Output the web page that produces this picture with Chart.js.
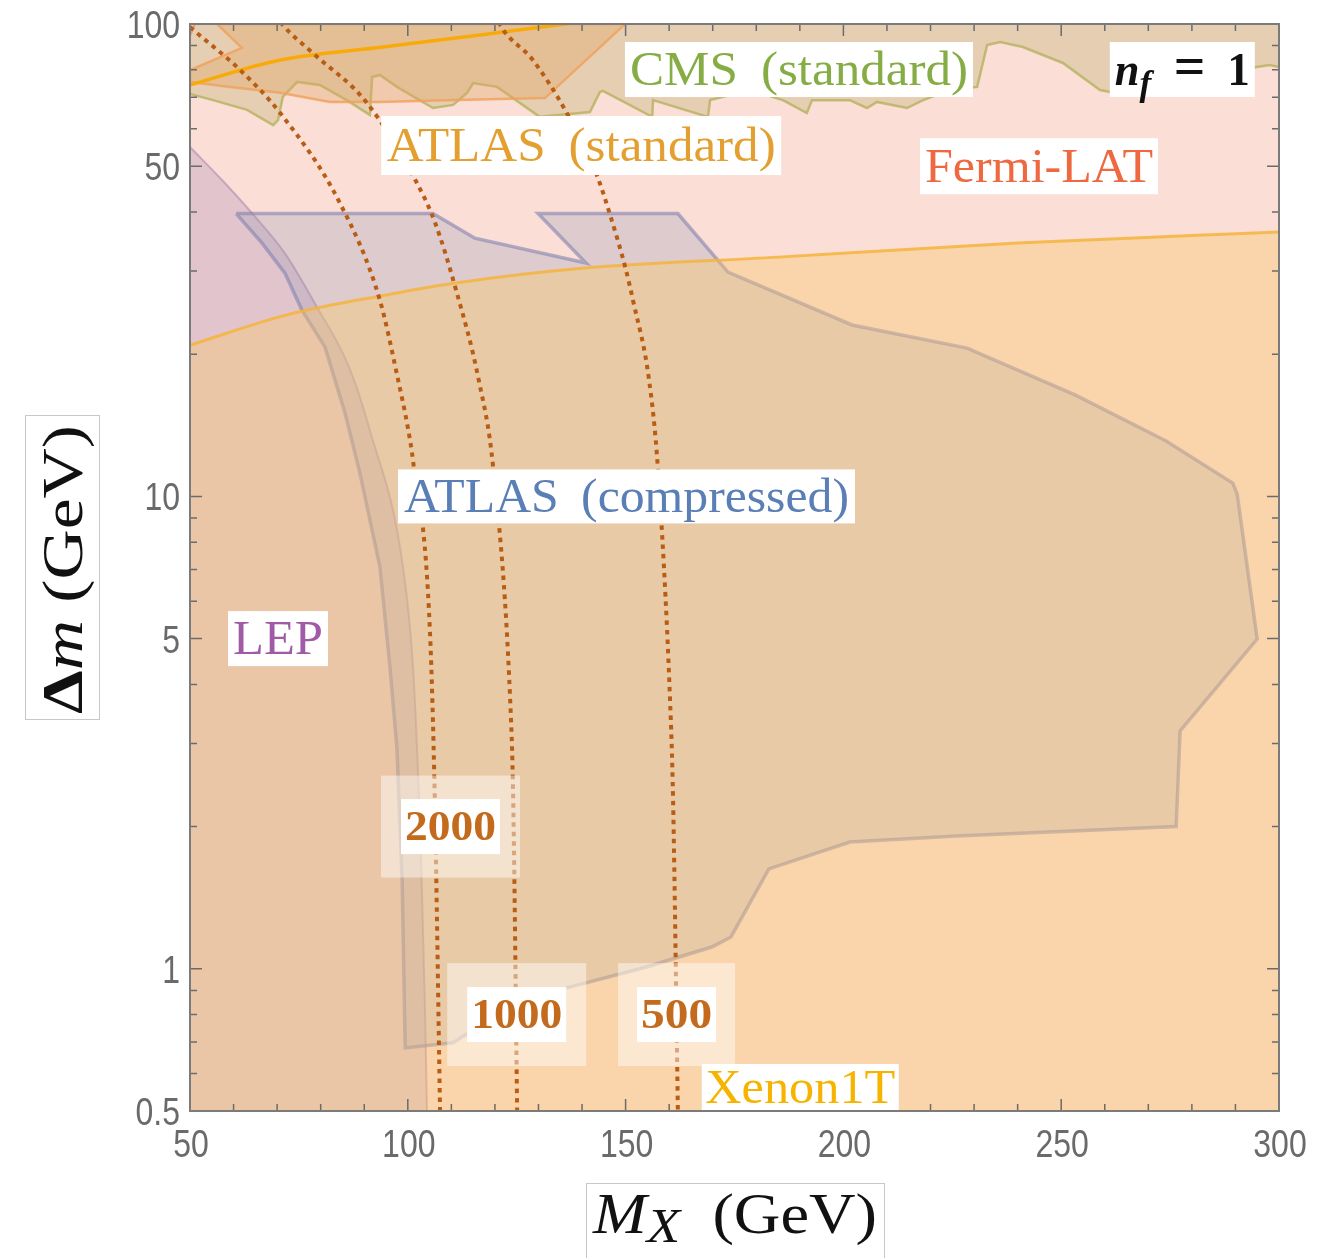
<!DOCTYPE html>
<html><head><meta charset="utf-8">
<script src="https://cdn.jsdelivr.net/npm/chart.js@4.4.1/dist/chart.umd.min.js"></script>
<style>html,body{margin:0;padding:0;background:#fff;}canvas{display:block;}</style>
</head><body>
<canvas id="c" width="1328" height="1258"></canvas>
<script>
// ---------------- data (M_X in GeV, Delta m in GeV) ----------------
const xMajorTicks = [50, 100, 150, 200, 250, 300];
const xTickText   = ['50', '100', '150', '200', '250', '300'];
const xMinorTicks = [60,70,80,90,110,120,130,140,160,170,180,190,210,220,230,240,260,270,280,290];
const yMajorTicks = [0.5, 1, 5, 10, 50, 100];
const yTickText   = ['0.5', '1', '5', '10', '50', '100'];
const yMinorTicks = [0.6,0.7,0.8,0.9,2,3,4,6,7,8,9,20,30,40,60,70,80,90];

// Fermi-LAT excluded region (whole plane except a tiny top-left corner)
const fermiM = [50, 51.1, 300, 300, 50];
const fermiD = [94.8, 100, 100, 0.5, 0.5];
const fermiEdgeM = [50, 51.1];
const fermiEdgeD = [94.8, 100];

// Xenon1T boundary (excluded below)
const xenonM = [50, 72, 95, 111, 140, 185, 240, 300];
const xenonD = [20.9, 24.2, 26.7, 28.3, 30.4, 32.1, 34.4, 36.3];

// second Xenon-coloured curve near the top
const topLineM = [50, 70.7, 94.3, 116.6, 134.3, 141];
const topLineD = [74.3, 83.9, 89.4, 94.8, 99.5, 101.5];

// LEP boundary (excluded to the left / below)
const lepM = [50, 57.3, 64.2, 71.8, 78.9, 86.5, 91.3, 98.9, 101.2, 102.3, 103.0, 103.9, 104.4];
const lepD = [54.9, 46.8, 39.8, 32.7, 25.4, 18.8, 13.8, 7.09, 4.35, 2.675, 1.78, 0.862, 0.5];

// ATLAS (compressed) contour
const cmpM = [60.6, 105.8, 115.4, 140.9, 129.9, 162.0, 173.5, 202.0, 228.4, 253.2, 274.1, 289.4, 290.4, 295.0, 277.3, 276.4, 226.1, 201.5, 182.9, 174.2, 169.8, 154.0, 136.3, 113.1, 110.4, 99.4, 98.7, 97.5, 95.9, 93.6, 89.0, 85.6, 81.0, 75.7, 71.8, 66.5, 60.6];
const cmpD = [39.7, 39.7, 35.2, 31.2, 39.7, 39.7, 29.85, 23.06, 20.6, 16.4, 13.1, 10.67, 10.12, 4.99, 3.19, 2.0, 1.91, 1.855, 1.627, 1.168, 1.112, 1.004, 0.91, 0.724, 0.697, 0.68, 1.54, 2.93, 4.35, 7.09, 11.2, 15.0, 20.7, 24.8, 29.7, 34.4, 39.7];

// CMS (standard) boundary (excluded above)
const cmsM = [50, 55.3, 63.1, 69.1, 70.2, 71.3, 74.6, 79.8, 86.0, 91.3, 91.8, 93.6, 97.5, 105.8, 110.4, 113.6, 115.0, 120.5, 130.3, 141.8, 144.1, 144.8, 156.1, 156.3, 168.9, 169.4, 178.6, 186.1, 191.6, 192.8, 201.5, 205.4, 207.7, 214.6, 218.3, 224.5, 230.7, 233.0, 236.0, 241.2, 250.4, 258.9, 261.2, 294.9, 297.9, 300];
const cmsD = [71.1, 69.0, 65.8, 61.1, 62.6, 70.1, 75.4, 74.3, 69.0, 64.2, 77.2, 78.0, 73.6, 66.4, 67.4, 71.5, 75.0, 73.6, 63.6, 65.1, 71.8, 72.2, 63.6, 69.0, 63.6, 69.0, 72.5, 69.0, 64.8, 69.0, 69.0, 66.4, 68.4, 66.4, 69.0, 72.5, 73.6, 90.3, 91.6, 89.4, 82.7, 72.5, 71.8, 81.1, 81.9, 81.1];

// ATLAS (standard) contour
const atlM = [50, 61.9, 56.2, 149.9, 131.5, 109.0, 93.6, 82.1, 70.7, 59.2, 50, 50];
const atlD = [79.9, 89.0, 100, 100, 69.7, 69.0, 68.4, 68.4, 71.5, 73.6, 75.4, 79.9];

// dotted contours 2000 / 1000 / 500
const c2000M = [50, 51.6, 61.5, 70.7, 84.4, 93.6, 97.8, 100.0, 101.2, 105.1, 106.2, 107.4];
const c2000D = [98.5, 95.7, 79.9, 64.8, 41.8, 26.0, 17.6, 14.0, 11.9, 5.14, 2.28, 0.5];
const c1000M = [70.8, 71.3, 78.2, 90.6, 101.7, 106.2, 111.1, 116.3, 119.6, 123.5, 124.2, 125.1];
const c1000D = [101, 99.5, 86.8, 68.1, 46.8, 38.1, 27.3, 17.6, 11.5, 3.71, 2.28, 0.5];
const c500M  = [120.9, 121.2, 128.7, 136.5, 143.2, 146.6, 150.1, 151.7, 155.4, 157.4, 160.2, 160.9, 162.0];
const c500D  = [101, 99.5, 83.9, 64.8, 48.4, 39.0, 30.1, 26.0, 17.6, 11.5, 3.71, 2.28, 0.5];

const pts = (xs, ys) => xs.map((v, i) => ({x: v, y: ys[i]}));

const SERIF = '"Liberation Serif", "DejaVu Serif", serif';
const SANS = '"Liberation Sans", Arial, sans-serif';

function fontOf(p, size) {
  return (p.italic ? 'italic ' : '') + (p.bold ? 'bold ' : '') + (size * (p.scale || 1)) + 'px ' + SERIF;
}
function drawPieces(ctx, pieces, cx, baseline, targetW, size) {
  const ws = [];
  let total = 0;
  for (const p of pieces) { ctx.font = fontOf(p, size); const w = ctx.measureText(p.t).width; ws.push(w); total += w; }
  const sx = targetW / total;
  ctx.save();
  ctx.translate(cx - targetW / 2, baseline);
  ctx.scale(sx, 1);
  ctx.textBaseline = 'alphabetic'; ctx.textAlign = 'left';
  let xx = 0;
  pieces.forEach((p, i) => { ctx.font = fontOf(p, size); ctx.fillText(p.t, xx, (p.dy || 0) * size); xx += ws[i]; });
  ctx.restore();
}
function drawTickText(ctx, s, x, baseline, align) {
  ctx.save();
  ctx.font = '39px ' + SANS;
  ctx.textBaseline = 'alphabetic';
  const w = ctx.measureText(s).width * 0.82;
  const left = align === 'right' ? x - w : x - w / 2;
  ctx.translate(left, baseline); ctx.scale(0.82, 1);
  ctx.textAlign = 'left';
  ctx.fillText(s, 0, 0);
  ctx.restore();
}

// label annotations (anchored in data coordinates)
const labels = [
  {pieces: [{t: 'CMS \u2009(standard)'}], color: '#86ad45', M: 189.8, D: 80.1, bw: 348, bh: 55, tw: 338, size: 48},
  {pieces: [{t: 'n', italic: true, bold: true}, {t: 'f', italic: true, bold: true, scale: 0.8, dy: 0.22}, {t: '\u2002', bold: true}, {t: '=', bold: true, scale: 1.25}, {t: '\u2002', bold: true}, {t: '1', bold: true}], color: '#111', M: 277.8, D: 80.1, bw: 145, bh: 55, tw: 135, size: 46},
  {pieces: [{t: 'ATLAS \u2009(standard)'}], color: '#e3a031', M: 139.8, D: 55.3, bw: 400, bh: 59, tw: 389, size: 48},
  {pieces: [{t: 'Fermi-LAT'}], color: '#ee6840', M: 244.9, D: 50.0, bw: 238, bh: 56, tw: 228, size: 48},
  {pieces: [{t: 'ATLAS \u2009(compressed)'}], color: '#5a7fb6', M: 150.2, D: 10.0, bw: 457, bh: 54, tw: 445, size: 48},
  {pieces: [{t: 'LEP'}], color: '#a05aa6', M: 70.2, D: 5.0, bw: 100, bh: 55, tw: 90, size: 48},
  {pieces: [{t: '2000', bold: true}], color: '#c46a1c', M: 109.8, D: 2.0, bw: 99, bh: 55, ow: 139, oh: 102, tw: 91, size: 42},
  {pieces: [{t: '1000', bold: true}], color: '#c46a1c', M: 125.0, D: 0.80, bw: 99, bh: 55, ow: 139, oh: 103, tw: 91, size: 42},
  {pieces: [{t: '500', bold: true}], color: '#c46a1c', M: 161.7, D: 0.80, bw: 79, bh: 55, ow: 117, oh: 103, tw: 71, size: 42},
  {pieces: [{t: 'Xenon1T'}], color: '#f6b400', M: 190.1, D: 0.55, bw: 197, bh: 55, tw: 190, size: 48, dy: -4}
];

const decor = {
  id: 'decor',
  afterDraw(chart) {
    const {ctx, chartArea: a, scales: {x, y}} = chart;
    ctx.save();
    // inward ticks on all four sides
    ctx.strokeStyle = '#6b6b6b'; ctx.lineWidth = 1.5;
    const tick = (px, len, vertical) => {
      ctx.beginPath();
      if (vertical) { ctx.moveTo(px, a.bottom); ctx.lineTo(px, a.bottom - len); ctx.moveTo(px, a.top); ctx.lineTo(px, a.top + len); }
      else { ctx.moveTo(a.left, px); ctx.lineTo(a.left + len, px); ctx.moveTo(a.right, px); ctx.lineTo(a.right - len, px); }
      ctx.stroke();
    };
    xMinorTicks.forEach(v => tick(x.getPixelForValue(v), 7, true));
    xMajorTicks.forEach(v => tick(x.getPixelForValue(v), 12, true));
    yMinorTicks.forEach(v => tick(y.getPixelForValue(v), 7, false));
    yMajorTicks.forEach(v => tick(y.getPixelForValue(v), 12, false));

    // tick labels
    ctx.fillStyle = '#6a6a6a';
    xMajorTicks.forEach((v, i) => drawTickText(ctx, xTickText[i], x.getPixelForValue(v) + 1, a.bottom + 46, 'center'));
    yMajorTicks.forEach((v, i) => drawTickText(ctx, yTickText[i], a.left - 10, y.getPixelForValue(v) + 14, 'right'));

    // labels
    ctx.save();
    ctx.beginPath(); ctx.rect(a.left, a.top, a.width, a.height); ctx.clip();
    for (const L of labels) {
      const cx = x.getPixelForValue(L.M), cy = y.getPixelForValue(L.D);
      if (L.ow) { ctx.fillStyle = 'rgba(255,255,255,0.45)'; ctx.fillRect(cx - L.ow / 2, cy - L.oh / 2, L.ow, L.oh); }
      ctx.fillStyle = '#ffffff'; ctx.fillRect(cx - L.bw / 2, cy - L.bh / 2, L.bw, L.bh);
      ctx.fillStyle = L.color;
      drawPieces(ctx, L.pieces, cx, cy + 0.33 * L.size + (L.dy || 0), L.tw, L.size);
    }
    ctx.restore();

    // frame
    ctx.strokeStyle = '#7b7b7b'; ctx.lineWidth = 2;
    ctx.strokeRect(a.left, a.top, a.width, a.height);

    // axis titles
    ctx.fillStyle = '#fff'; ctx.strokeStyle = '#c8c8c8'; ctx.lineWidth = 1;
    ctx.fillRect(25, 415, 74, 304); ctx.strokeRect(25.5, 415.5, 74, 304);
    ctx.fillRect(586, 1183, 298, 80); ctx.strokeRect(586.5, 1183.5, 298, 80);
    ctx.fillStyle = '#111';
    ctx.save();
    ctx.translate(63, 569.5); ctx.rotate(-Math.PI / 2);
    drawPieces(ctx, [{t: '\u0394', bold: true}, {t: 'm', italic: true}, {t: ' (GeV)'}], 0, 0.33 * 58, 289, 58);
    ctx.restore();
    drawPieces(ctx, [{t: 'M', italic: true}, {t: 'X', italic: true, scale: 0.85, dy: 0.16}, {t: '\u2002(GeV)'}], 735, 1233, 284, 58);
    ctx.restore();
  }
};

const base = {showLine: true, pointRadius: 0, borderWidth: 0, tension: 0};
const dotted = {borderColor: '#b95d14', borderWidth: 4, borderDash: [4.5, 5], cubicInterpolationMode: 'monotone', fill: false};
const datasets = [
  {...base, ...dotted, data: pts(c500M, c500D), order: 1},
  {...base, ...dotted, data: pts(c1000M, c1000D), order: 2},
  {...base, ...dotted, data: pts(c2000M, c2000D), order: 3},
  {...base, data: pts(topLineM, topLineD), borderColor: 'rgb(248,170,10)', borderWidth: 3.5, cubicInterpolationMode: 'monotone', fill: false, order: 4},
  {...base, data: pts(atlM, atlD), borderColor: 'rgba(240,160,90,0.8)', borderWidth: 2.5, backgroundColor: 'rgba(224,164,94,0.35)', fill: 'shape', order: 5},
  {...base, data: pts(cmsM, cmsD), borderColor: 'rgba(185,180,100,0.85)', borderWidth: 2.5, backgroundColor: 'rgba(191,179,115,0.35)', fill: 'end', order: 6},
  {...base, data: pts(fermiEdgeM, fermiEdgeD), borderColor: 'rgba(236,130,110,0.8)', borderWidth: 2.5, fill: false, order: 6.5},
  {...base, data: pts(xenonM, xenonD), borderColor: 'rgba(245,180,60,0.85)', borderWidth: 3, backgroundColor: 'rgba(251,200,110,0.4)', cubicInterpolationMode: 'monotone', fill: 'start', order: 7},
  {...base, data: pts(cmpM, cmpD), borderColor: 'rgba(130,130,175,0.6)', borderWidth: 3.5, backgroundColor: 'rgba(154,159,185,0.3)', fill: 'shape', order: 8},
  {...base, data: pts(lepM, lepD), borderColor: 'rgba(160,110,160,0.45)', borderWidth: 2, backgroundColor: 'rgba(168,139,182,0.3)', cubicInterpolationMode: 'monotone', fill: 'start', order: 9},
  {...base, data: pts(fermiM, fermiD), backgroundColor: 'rgb(251,222,214)', fill: 'shape', order: 10}
];

new Chart(document.getElementById('c'), {
  type: 'scatter',
  data: {datasets},
  options: {
    responsive: false, animation: false, devicePixelRatio: 1, events: [],
    layout: {padding: {top: 24, right: 49, left: 0, bottom: 0}},
    plugins: {legend: {display: false}, tooltip: {enabled: false}},
    scales: {
      x: {
        type: 'linear', min: 50, max: 300, position: 'bottom',
        grid: {display: false, drawTicks: false}, border: {display: false},
        ticks: {display: false},
        afterFit: s => { s.height = 147; s.paddingLeft = 0; s.paddingRight = 0; }
      },
      y: {
        type: 'logarithmic', min: 0.5, max: 100, position: 'left',
        grid: {display: false, drawTicks: false}, border: {display: false},
        ticks: {display: false},
        afterFit: s => { s.width = 190; s.paddingTop = 0; s.paddingBottom = 0; }
      }
    }
  },
  plugins: [decor]
});
</script>
</body></html>
